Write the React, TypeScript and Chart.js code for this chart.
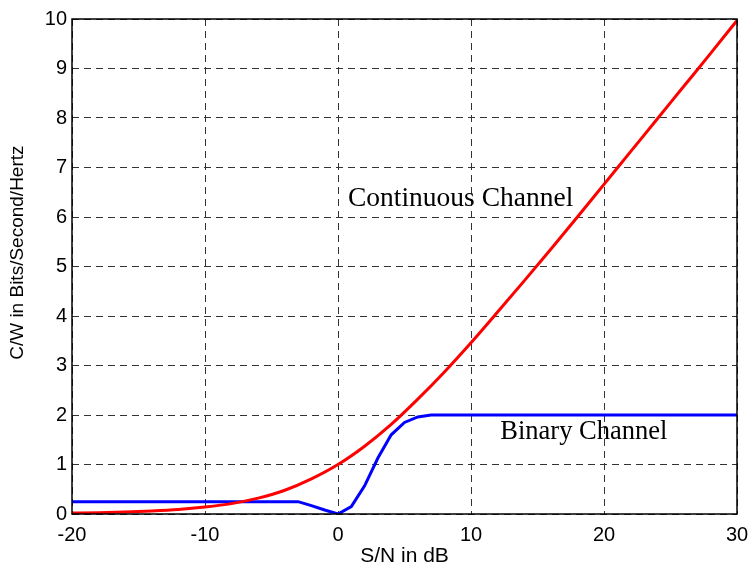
import React, { useEffect, useRef } from "react";
import { Chart, registerables } from "chart.js";

Chart.register(...registerables);

// S/N in dB and capacities
const continuousSnr = [-20, -18, -16, -14, -12, -10, -8, -6, -4, -2, 0, 2, 4, 6, 8, 10, 12, 14, 16, 18, 20, 22, 24, 26, 28, 30];
const continuousCap = [0.02, 0.025, 0.04, 0.06, 0.09, 0.14, 0.21, 0.32, 0.48, 0.71, 1.0, 1.37, 1.81, 2.32, 2.87, 3.46, 4.08, 4.71, 5.35, 6.0, 6.66, 7.32, 7.98, 8.64, 9.3, 9.97];

const binarySnr = [-20, -3, -2, -1, 0, 1, 2, 3, 4, 5, 6, 7, 30];
const binaryCap = [0.25, 0.25, 0.17, 0.08, 0.0, 0.15, 0.57, 1.13, 1.6, 1.85, 1.96, 2.0, 2.0];

const xTicks = [-20, -10, 0, 10, 20, 30];
const yTicks = [0, 1, 2, 3, 4, 5, 6, 7, 8, 9, 10];

const xTitle = "S/N in dB";
const yTitle = "C/W in Bits/Second/Hertz";

const curveLabels = [
  { text: "Continuous Channel", x: 0.75, y: 6.22, size: 27.5 },
  { text: "Binary Channel", x: 12.2, y: 1.51, size: 26.5 },
];

export default function App() {
  const canvasRef = useRef<HTMLCanvasElement | null>(null);

  useEffect(() => {
    document.body.style.margin = "0";
    const canvas = canvasRef.current;
    if (!canvas) return;

    const labelPlugin = {
      id: "curveLabels",
      afterDatasetsDraw(chart: any) {
        const { ctx, scales } = chart;
        ctx.save();
        ctx.fillStyle = "#000";
        ctx.textAlign = "left";
        ctx.textBaseline = "alphabetic";
        for (const l of curveLabels) {
          ctx.font = `${l.size}px 'Liberation Serif', 'Times New Roman', serif`;
          ctx.fillText(l.text, scales.x.getPixelForValue(l.x), scales.y.getPixelForValue(l.y));
        }
        ctx.restore();
      },
      afterDraw(chart: any) {
        const { ctx, chartArea: a } = chart;
        ctx.save();
        ctx.strokeStyle = "#000";
        ctx.lineWidth = 1.5;
        ctx.setLineDash([]);
        ctx.strokeRect(a.left, a.top, a.right - a.left, a.bottom - a.top);
        // y axis title
        ctx.fillStyle = "#000";
        ctx.font = "19px 'Liberation Sans', Arial, sans-serif";
        ctx.textAlign = "center";
        ctx.textBaseline = "middle";
        ctx.translate(18, a.top + (a.bottom - a.top) * 0.472);
        ctx.rotate(-Math.PI / 2);
        ctx.fillText(yTitle, 0, 0);
        ctx.restore();
      },
    };

    const tickFont = { family: "'Liberation Sans', Arial, sans-serif", size: 20 };

    const chart = new Chart(canvas, {
      type: "line",
      data: {
        datasets: [
          {
            label: "Continuous Channel",
            data: continuousSnr.map((x, i) => ({ x, y: continuousCap[i] })),
            borderColor: "#ff0000",
            borderWidth: 3,
            pointRadius: 0,
            cubicInterpolationMode: "monotone",
            fill: false,
          },
          {
            label: "Binary Channel",
            data: binarySnr.map((x, i) => ({ x, y: binaryCap[i] })),
            borderColor: "#0000ff",
            borderWidth: 3,
            pointRadius: 0,
            tension: 0,
            fill: false,
          },
        ],
      },
      options: {
        animation: false,
        responsive: false,
        maintainAspectRatio: false,
        layout: { padding: { top: 19, right: 11, left: 0, bottom: 0 } },
        plugins: {
          legend: { display: false },
          tooltip: { enabled: false },
        },
        scales: {
          x: {
            type: "linear",
            min: -20,
            max: 30,
            afterBuildTicks: (s: any) => {
              s.ticks = xTicks.map((v) => ({ value: v }));
            },
            afterFit: (s: any) => {
              s.height = 55;
              s.paddingLeft = 0;
              s.paddingRight = 0;
            },
            ticks: { color: "#000", font: tickFont, padding: 9, maxRotation: 0 },
            grid: {
              color: "#333",
              lineWidth: 1,
              drawTicks: false,
              tickLength: 0,
            },
            border: { display: false, dash: [7, 5] },
            title: {
              display: true,
              text: xTitle,
              color: "#000",
              font: { family: "'Liberation Sans', Arial, sans-serif", size: 21 },
              padding: { top: 0, bottom: 0 },
            },
          },
          y: {
            type: "linear",
            min: 0,
            max: 10,
            afterBuildTicks: (s: any) => {
              s.ticks = yTicks.map((v) => ({ value: v }));
            },
            afterFit: (s: any) => {
              s.width = 72;
              s.paddingTop = 0;
              s.paddingBottom = 0;
            },
            ticks: { color: "#000", font: tickFont, padding: 5 },
            grid: {
              color: "#333",
              lineWidth: 1,
              drawTicks: false,
              tickLength: 0,
            },
            border: { display: false, dash: [7, 5] },
            title: { display: false },
          },
        },
      } as any,
      plugins: [labelPlugin],
    });

    return () => chart.destroy();
  }, []);

  return (
    <div style={{ width: 748, height: 569, background: "#fff" }}>
      <canvas ref={canvasRef} width={748} height={569} style={{ display: "block" }} />
    </div>
  );
}
